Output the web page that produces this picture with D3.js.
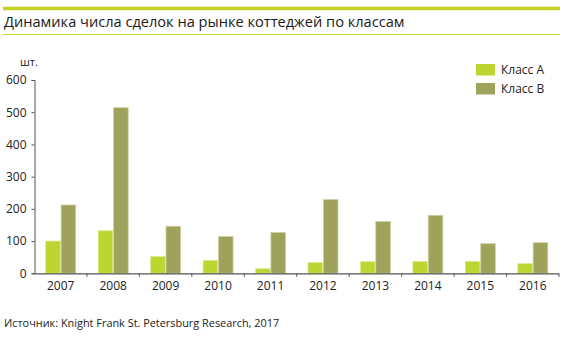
<!DOCTYPE html>
<html>
<head>
<meta charset="utf-8">
<script src="https://cdn.jsdelivr.net/npm/d3@7"></script>
<style>
  html, body { margin: 0; padding: 0; background: #fff; }
  svg { display: block; font-family: "Open Sans", "Noto Sans", sans-serif; }
</style>
</head>
<body>
<svg id="chart" width="571" height="343"></svg>
<script>
// Number of cottage deals by class, units
const years = ["2007","2008","2009","2010","2011","2012","2013","2014","2015","2016"];
const classA = [100, 132, 52, 40, 14, 33, 36, 37, 37, 30];
const classB = [212, 514, 146, 114, 127, 229, 161, 180, 92, 95];
const seriesNames = ["Класс А", "Класс В"];
const yTicks = [0, 100, 200, 300, 400, 500, 600];

(function () {
const colors = ["#bdd531", "#9fa25a"];
const strokes = ["#dde98f", "#cfd1a4"];

const svg = d3.select("#chart");

// Header rules and title
svg.append("line").attr("x1", 3).attr("x2", 560).attr("y1", 8.5).attr("y2", 8.5)
  .attr("stroke", "#c7d321").attr("stroke-width", 3.5);
svg.append("line").attr("x1", 3).attr("x2", 560).attr("y1", 34.5).attr("y2", 34.5)
  .attr("stroke", "#c9d83a").attr("stroke-width", 1);
svg.append("text").attr("x", 4).attr("y", 26.5)
  .attr("font-size", 14.6).attr("fill", "#1a1a1a")
  .text("Динамика числа сделок на рынке коттеджей по классам");

const mLeft = 34.5, mRight = 559, mTop = 80, mBottom = 273.3;

const x = d3.scaleBand().domain(years).range([mLeft, mRight]);
const y = d3.scaleLinear().domain([0, 600]).range([mBottom, mTop]);
const inner = d3.scaleBand().domain([0, 1]).range([0, 30]).paddingInner(0.05);

// Bars
const g = svg.append("g");
[classA, classB].forEach((vals, si) => {
  g.selectAll(".bar" + si).data(years).enter().append("rect")
    .attr("x", d => x(d) + (x.bandwidth() - 30) / 2 + inner(si))
    .attr("y", (d, i) => y(vals[i]))
    .attr("width", inner.bandwidth())
    .attr("height", (d, i) => mBottom - y(vals[i]))
    .attr("fill", colors[si])
    .attr("stroke", strokes[si])
    .attr("stroke-width", 0.8);
});

// Y axis
const yAxis = svg.append("g").attr("transform", `translate(${mLeft},0)`)
  .call(d3.axisLeft(y).tickValues(yTicks).tickSize(3).tickPadding(5));
yAxis.select(".domain").attr("stroke", "#555");
yAxis.selectAll(".tick line").attr("stroke", "#555");
yAxis.selectAll("text").attr("font-size", 12).attr("fill", "#222")
  .attr("font-family", "Open Sans, Noto Sans, sans-serif");

// X axis with ticks between categories
const xAxis = svg.append("g").attr("transform", `translate(0,${mBottom})`);
xAxis.append("line").attr("x1", mLeft).attr("x2", mRight).attr("y1", 0.5).attr("y2", 0.5)
  .attr("stroke", "#555").attr("stroke-width", 1.3);
xAxis.selectAll(".sep").data(years).enter().append("line")
  .attr("x1", d => x(d) + x.bandwidth())
  .attr("x2", d => x(d) + x.bandwidth())
  .attr("y1", 0).attr("y2", 3.5).attr("stroke", "#555");
xAxis.selectAll(".lbl").data(years).enter().append("text")
  .attr("x", d => x(d) + x.bandwidth() / 2)
  .attr("y", 17).attr("text-anchor", "middle")
  .attr("font-size", 12).attr("fill", "#222").text(d => d);

// Unit label
svg.append("text").attr("x", 20).attr("y", 66).attr("font-size", 11).attr("fill", "#222").text("шт.");

// Legend
const leg = svg.append("g");
seriesNames.forEach((name, i) => {
  leg.append("rect").attr("x", 476).attr("y", 64 + i * 19).attr("width", 19).attr("height", 11.5)
    .attr("fill", colors[i]);
  leg.append("text").attr("x", 501).attr("y", 74 + i * 19).attr("font-size", 12)
    .attr("fill", "#222").text(name);
});

// Source note
svg.append("text").attr("x", 4).attr("y", 327).attr("font-size", 10.9).attr("fill", "#222")
  .text("Источник: Knight Frank St. Petersburg Research, 2017");
})();
</script>
</body>
</html>
